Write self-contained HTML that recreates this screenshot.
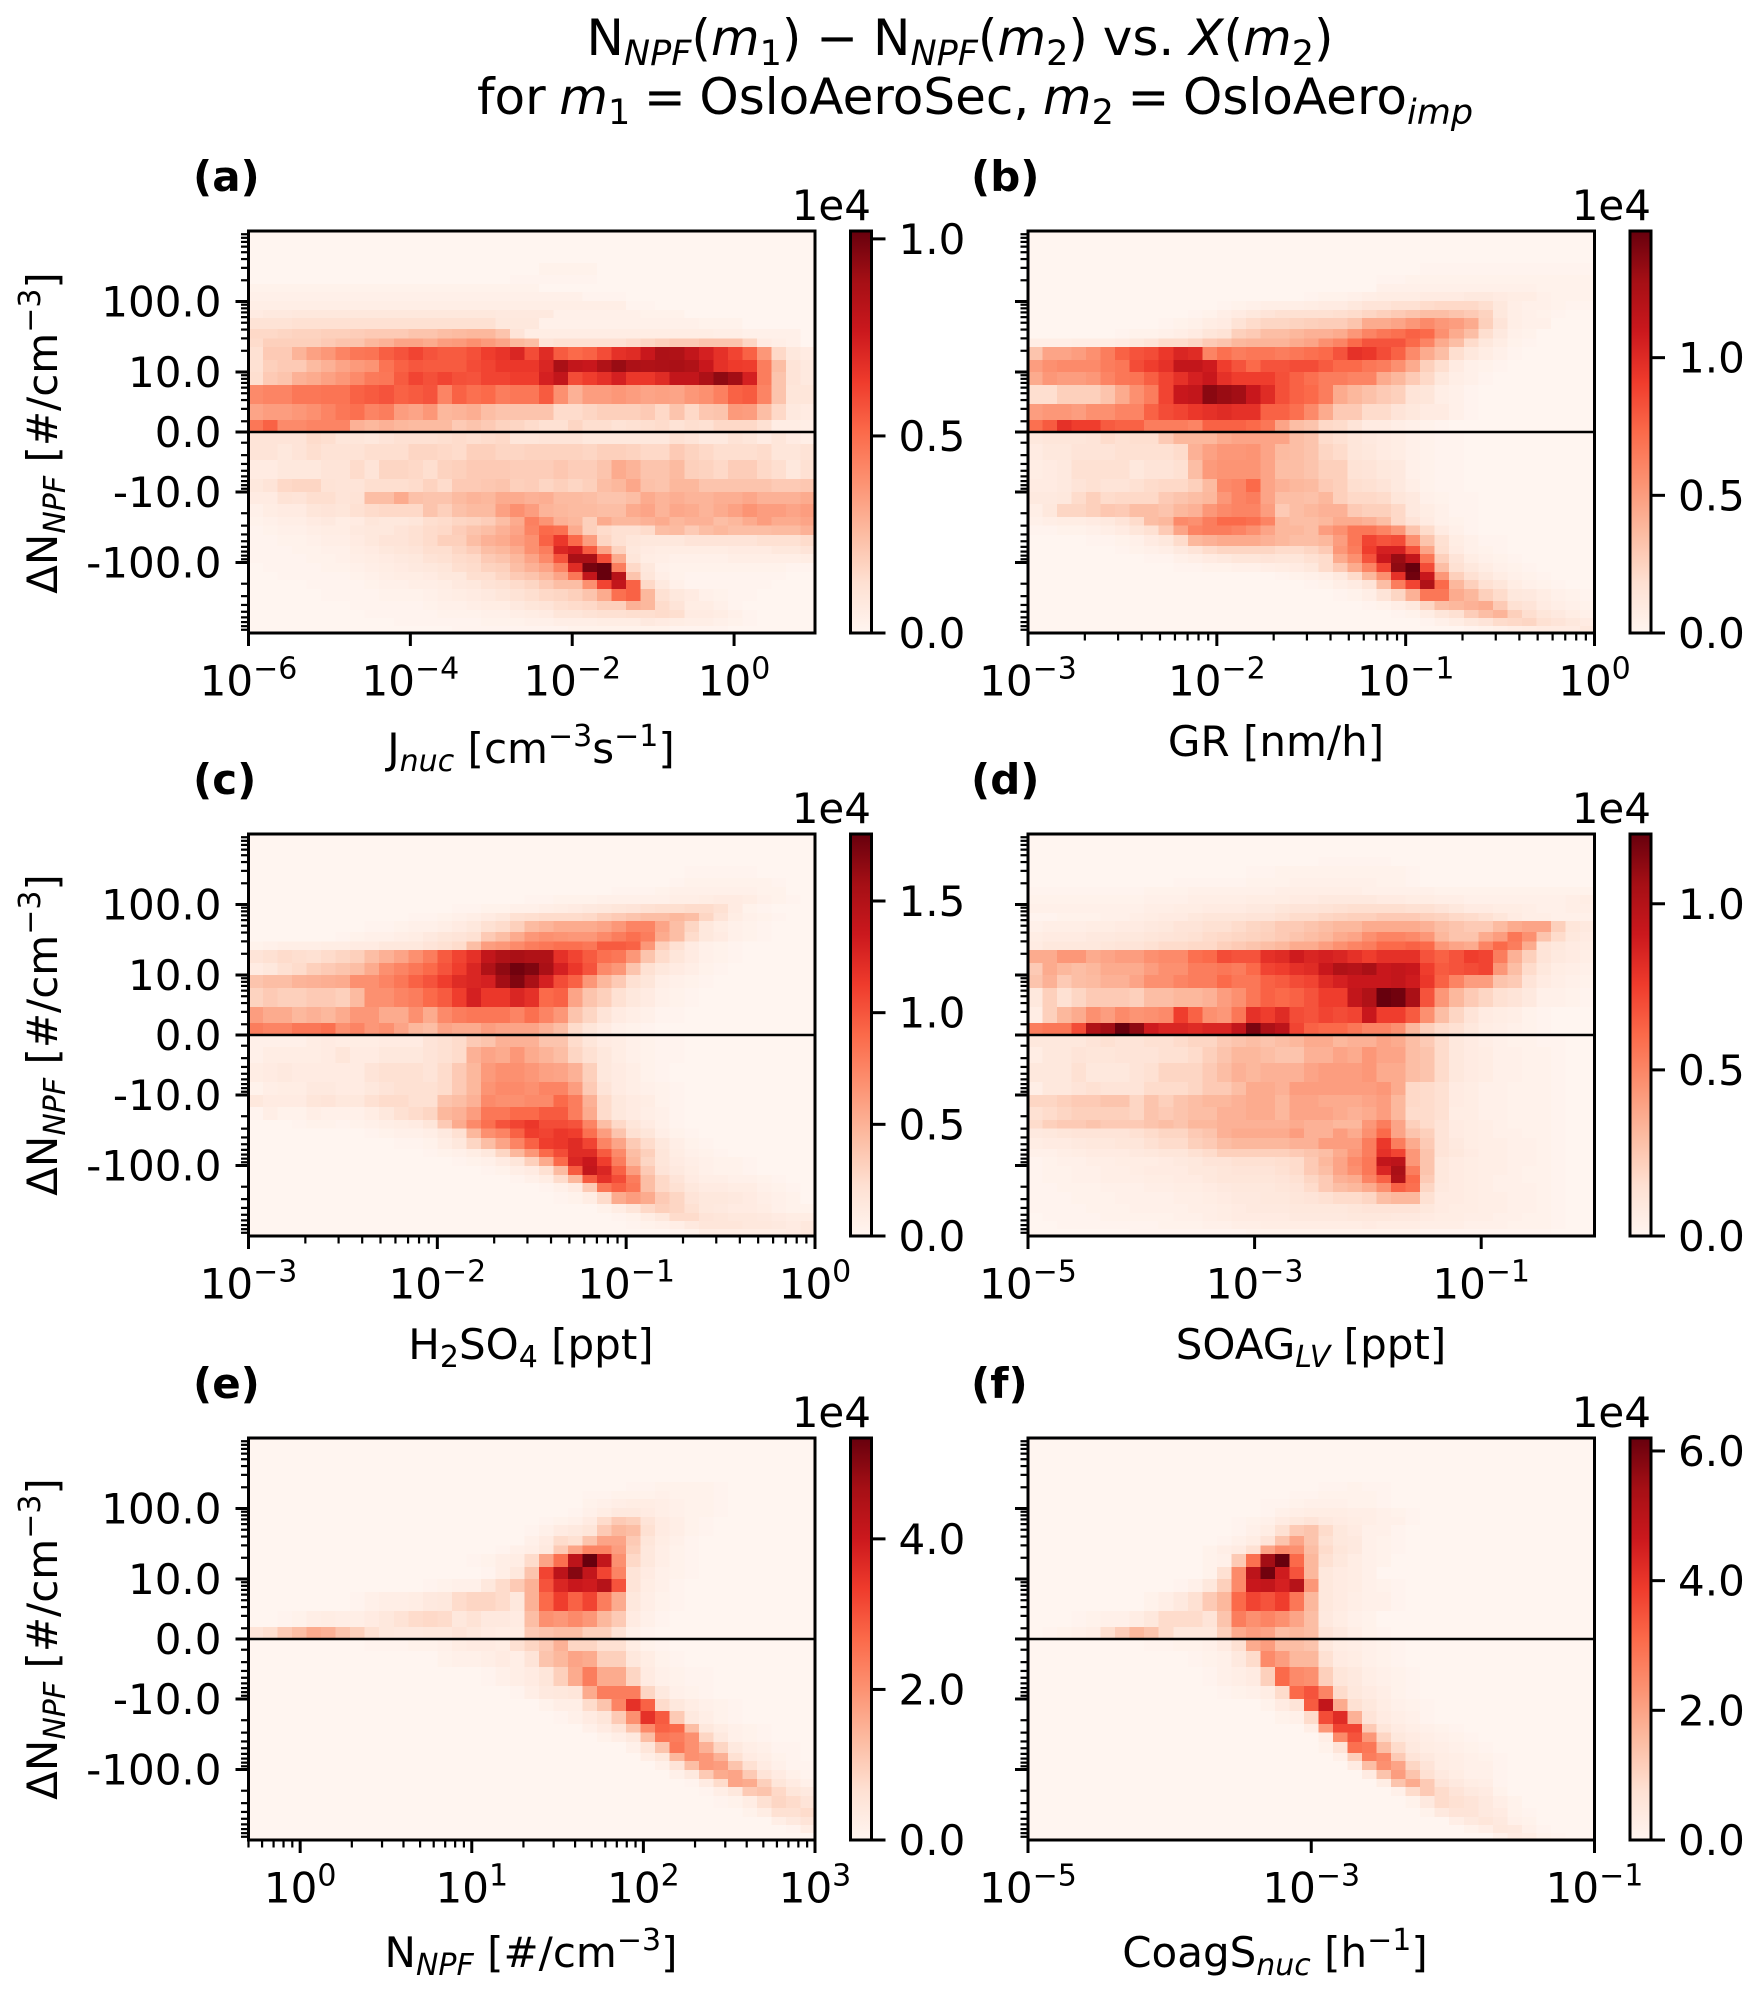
<!DOCTYPE html>
<html>
<head>
<meta charset="utf-8">
<title>NPF difference heatmaps</title>
<style>
html,body{margin:0;padding:0;background:#fff;}
svg{display:block;}
text{font-family:"DejaVu Sans","Liberation Sans",sans-serif;fill:#000;white-space:pre;}
.i{font-style:italic;}
.t{font-size:42px;}
.h{font-size:50px;}
.b{font-size:42px;font-weight:bold;}
</style>
</head>
<body>
<svg id="figure" xmlns="http://www.w3.org/2000/svg" width="1761" height="1995" viewBox="0 0 1761 1995">
<defs>
<linearGradient id="reds" x1="0" y1="1" x2="0" y2="0">
<stop offset="0" stop-color="#fff5f0"/><stop offset="0.125" stop-color="#fee0d2"/><stop offset="0.25" stop-color="#fcbba1"/><stop offset="0.375" stop-color="#fc9272"/><stop offset="0.5" stop-color="#fb6a4a"/><stop offset="0.625" stop-color="#ef3b2c"/><stop offset="0.75" stop-color="#cb181d"/><stop offset="0.875" stop-color="#a50f15"/><stop offset="1" stop-color="#67000d"/>
</linearGradient>
</defs>
<rect width="1761" height="1995" fill="#fff"/>

<text class="h" x="960" y="55" text-anchor="middle" word-spacing="-1">N<tspan class="i" font-size="35" dy="10">NPF</tspan><tspan dy="-10">(</tspan><tspan class="i">m</tspan><tspan font-size="35" dy="10">1</tspan><tspan dy="-10">) − N</tspan><tspan class="i" font-size="35" dy="10">NPF</tspan><tspan dy="-10">(</tspan><tspan class="i">m</tspan><tspan font-size="35" dy="10">2</tspan><tspan dy="-10">) vs. </tspan><tspan class="i">X</tspan><tspan>(</tspan><tspan class="i">m</tspan><tspan font-size="35" dy="10">2</tspan><tspan dy="-10">)</tspan></text>
<text class="h" x="975" y="114" text-anchor="middle" word-spacing="-2.3">for <tspan class="i">m</tspan><tspan font-size="35" dy="10">1</tspan><tspan dy="-10"> = OsloAeroSec, </tspan><tspan class="i">m</tspan><tspan font-size="35" dy="10">2</tspan><tspan dy="-10"> = OsloAero</tspan><tspan class="i" font-size="35" dy="10">imp</tspan></text>

<text class="b" x="193" y="191">(a)</text>
<text class="b" x="971" y="191">(b)</text>
<text class="b" x="193" y="794">(c)</text>
<text class="b" x="971" y="794">(d)</text>
<text class="b" x="193" y="1398">(e)</text>
<text class="b" x="971" y="1398">(f)</text>

<text class="t" transform="translate(57,433) rotate(-90)" text-anchor="middle">ΔN<tspan class="i" font-size="30" dy="8">NPF</tspan><tspan dy="-8"> [#/cm</tspan><tspan font-size="30" dy="-17">−3</tspan><tspan dy="17">]</tspan></text>
<text class="t" transform="translate(57,1035) rotate(-90)" text-anchor="middle">ΔN<tspan class="i" font-size="30" dy="8">NPF</tspan><tspan dy="-8"> [#/cm</tspan><tspan font-size="30" dy="-17">−3</tspan><tspan dy="17">]</tspan></text>
<text class="t" transform="translate(57,1639) rotate(-90)" text-anchor="middle">ΔN<tspan class="i" font-size="30" dy="8">NPF</tspan><tspan dy="-8"> [#/cm</tspan><tspan font-size="30" dy="-17">−3</tspan><tspan dy="17">]</tspan></text>

<text class="t" x="531" y="763" text-anchor="middle">J<tspan class="i" font-size="30" dy="8">nuc</tspan><tspan dy="-8"> [cm</tspan><tspan font-size="30" dy="-17">−3</tspan><tspan dy="17">s</tspan><tspan font-size="30" dy="-17">−1</tspan><tspan dy="17">]</tspan></text>
<text class="t" x="1276" y="756" text-anchor="middle">GR [nm/h]</text>
<text class="t" x="531" y="1359" text-anchor="middle">H<tspan font-size="30" dy="8">2</tspan><tspan dy="-8">SO</tspan><tspan font-size="30" dy="8">4</tspan><tspan dy="-8"> [ppt]</tspan></text>
<text class="t" x="1311" y="1359" text-anchor="middle">SOAG<tspan class="i" font-size="30" dy="8">LV</tspan><tspan dy="-8"> [ppt]</tspan></text>
<text class="t" x="531" y="1967" text-anchor="middle">N<tspan class="i" font-size="30" dy="8">NPF</tspan><tspan dy="-8"> [#/cm</tspan><tspan font-size="30" dy="-17">−3</tspan><tspan dy="17">]</tspan></text>
<text class="t" x="1275" y="1967" text-anchor="middle">CoagS<tspan class="i" font-size="30" dy="8">nuc</tspan><tspan dy="-8"> [h</tspan><tspan font-size="30" dy="-17">−1</tspan><tspan dy="17">]</tspan></text>

<text class="t" x="871" y="220" text-anchor="end">1e4</text>
<text class="t" x="1651" y="220" text-anchor="end">1e4</text>
<text class="t" x="871" y="823" text-anchor="end">1e4</text>
<text class="t" x="1651" y="823" text-anchor="end">1e4</text>
<text class="t" x="871" y="1427" text-anchor="end">1e4</text>
<text class="t" x="1651" y="1427" text-anchor="end">1e4</text>
</svg>
<script>
// Shared y bins (delta N, top to bottom) and y axis ticks
const yBinEdges = [1000,795,613,472,352,238,177,136,102,76,58,41,30,22.6,14.8,10,6.5,3.5,2.1,0,-2.1,-3.5,-6.5,-10,-14.8,-22.6,-30,-41,-58,-76,-102,-136,-177,-238,-352,-472,-613,-795,-1000];
const yTickValues = [100,10,0,-10,-100];
const yTickLabels = ["100.0","10.0","0.0","-10.0","-100.0"];
const yMinorDecades = [1,10,100];
const yMinorSteps = [2,3,4,5,6,7,8,9];
const columnCount = 39;
const redsStops = ["#fff5f0","#fee0d2","#fcbba1","#fc9272","#fb6a4a","#ef3b2c","#cb181d","#a50f15","#67000d"];

// Per-panel x limits (log10), x tick exponents, colour peak (1e4), colourbar ticks
const panelAXLim = [-6,1];
const panelAXTicks = [-6,-4,-2,0];
const panelAPeak = 1.02;
const panelACbarTicks = [0,0.5,1.0];
const panelBXLim = [-3,0];
const panelBXTicks = [-3,-2,-1,0];
const panelBPeak = 1.46;
const panelBCbarTicks = [0,0.5,1.0];
const panelCXLim = [-3,0];
const panelCXTicks = [-3,-2,-1,0];
const panelCPeak = 1.8;
const panelCCbarTicks = [0,0.5,1.0,1.5];
const panelDXLim = [-5,0];
const panelDXTicks = [-5,-3,-1];
const panelDPeak = 1.21;
const panelDCbarTicks = [0,0.5,1.0];
const panelEXLim = [-0.30103,3];
const panelEXTicks = [0,1,2,3];
const panelEPeak = 5.34;
const panelECbarTicks = [0,2,4];
const panelFXLim = [-5,-1];
const panelFXTicks = [-5,-3,-1];
const panelFPeak = 6.2;
const panelFCbarTicks = [0,2,4,6];

// Heatmap rows, top to bottom. First entry = first non-empty column, then percent of the panel peak.
const panelARows = [
[0],[0],[0],[0],
[20,2,2,2,2],
[18,1,1,1,1,1,1],
[0,2,2,2,2,2,2,2,2,2,2,2,2,2,2,2,2,2,2,2,2],
[0,3,3,3,3,3,3,3,3,3,3,3,3,3,3,3,3,3,3,3,3,3,3,3,1,1,1],
[0,4,4,4,4,4,4,4,4,4,4,4,4,4,4,4,4,4,4,4,4,4,4,4,4,4,4,1,1],
[0,6,7,7,8,8,8,8,8,8,8,8,8,8,8,8,8,8,7,7,7,7,3,3,3,3,3,3,2,2,2],
[0,11,11,11,12,12,12,12,12,12,12,12,12,12,12,12,12,12,8,8,8,3,3,3,3,3,3,3,3,3,3,3,2,2,2],
[0,15,15,16,17,17,18,18,19,20,20,20,22,22,24,25,26,26,22,10,5,5,5,5,5,5,5,5,5,5,5,5,5,4,4,3,3,3,3],
[0,14,18,18,18,18,20,22,22,26,28,32,32,30,34,35,38,35,32,26,24,10,12,12,12,12,12,14,16,18,20,20,22,22,22,16,6,4,3],
[0,12,20,20,27,33,36,42,46,47,53,56,60,56,54,54,57,62,65,70,58,68,54,50,52,58,66,68,76,85,84,78,72,66,60,52,36,15,8,6],
[0,12,18,20,20,25,28,32,35,37,47,52,55,54,54,54,58,60,64,64,64,70,86,78,76,84,90,85,84,85,86,84,76,66,63,62,44,24,10,7],
[0,13,20,22,28,30,33,36,40,45,46,54,60,57,60,57,56,60,60,62,62,72,78,58,62,66,72,64,64,68,78,78,85,92,88,72,44,22,10,7],
[0,40,42,42,46,46,47,47,52,54,56,52,54,56,42,52,48,50,44,46,46,54,38,28,34,34,36,34,32,33,32,36,38,43,52,54,42,22,9,9],
[0,32,34,34,36,38,42,46,48,42,44,34,32,36,26,27,29,24,22,22,22,22,14,14,16,18,18,18,20,15,22,15,21,22,35,34,24,15,7,6],
[0,46,52,40,40,42,42,42,28,26,28,26,25,25,25,20,22,20,17,16,14,12,12,16,13,13,11,12,13,14,11,13,12,15,15,15,12,5,5,4],
[0,10,10,10,10,14,13,9,9,8,10,12,12,12,13,14,13,14,15,9,9,10,10,10,8,8,8,8,8,8,12,10,7,7,11,9,6,9,6,4],
[0,10,10,8,10,13,11,11,11,13,13,13,16,16,15,14,18,18,16,16,17,17,17,17,16,18,18,17,15,15,20,17,15,13,13,13,14,9,9,11],
[0,6,6,8,8,8,10,10,14,10,16,16,15,13,17,18,20,20,20,19,19,19,21,19,19,22,30,27,22,22,25,18,17,15,19,19,15,13,8,12],
[0,8,10,15,16,16,11,10,10,13,13,13,14,17,14,20,20,21,22,18,19,16,18,16,18,24,26,31,23,22,26,26,22,22,22,22,22,20,20,21],
[0,6,6,11,10,13,13,10,11,24,24,30,23,22,22,25,27,26,30,30,28,29,25,25,24,22,22,24,30,27,29,27,27,29,29,31,28,28,28,30],
[0,3,5,6,6,9,10,9,12,14,15,15,15,22,18,23,25,25,33,38,34,27,26,25,25,24,24,30,32,27,31,30,27,30,33,37,34,34,32,34],
[0,2,3,4,4,6,7,5,6,9,8,8,9,13,14,16,17,19,24,30,43,37,28,26,18,30,26,26,28,30,26,28,28,24,26,30,34,30,30,32],
[0,1,2,3,3,4,5,5,7,8,8,10,12,14,15,19,22,24,28,32,42,50,48,30,18,14,12,12,14,24,25,20,24,26,24,24,24,25,25,28],
[0,1,1,2,2,3,4,4,6,8,10,10,12,14,18,18,24,28,30,34,38,52,64,50,34,16,12,9,8,8,8,10,10,10,10,10,12,12,12,14],
[0,1,1,1,2,2,3,3,5,6,8,9,10,13,13,16,19,24,26,30,38,44,70,74,54,32,17,8,6,5,5,5,5,5,6,6,6,8,8,10],
[0,1,1,1,1,2,2,3,4,5,6,7,8,11,12,14,15,20,22,26,32,40,56,86,86,58,30,9,5,4,3,3,3,3,4,4,4,4,4,5],
[1,1,1,1,1,2,2,3,4,5,6,7,8,9,13,14,17,18,24,28,32,42,68,97,100,44,15,8,3,2,2,2,2,2,2,2,2,1,1],
[2,1,1,1,1,1,2,3,4,5,5,6,8,8,13,13,16,20,22,26,32,46,78,100,82,22,9,4,2,1,1,1,1,1,1,1],
[4,1,1,1,1,2,3,3,4,4,5,7,8,11,12,14,16,20,24,24,38,60,78,52,15,7,3,1,1,1,1,1,1],
[5,1,1,1,1,2,2,2,3,4,5,6,7,9,11,13,15,16,18,22,30,48,52,26,12,8,6,3,2,1,1],
[7,1,1,1,1,1,2,3,3,4,5,5,7,9,10,13,14,15,18,18,28,26,14,10,5,5,3,1],
[8,1,1,1,1,1,2,2,2,3,3,4,5,6,9,9,11,12,12,13,13,14,13,6,6,5,3,1],
[10,1,1,1,1,1,1,2,2,2,3,3,4,4,4,5,5,5,7,6,5,4,4,3,2,1],
[14,1,1,1,1,1,1,1,1,2,2,2,2,2,2,2,1,1,1,1]
];

const panelBRows = [
[0],[0],[0],[0],
[27,1,1,1,1,1,1,1,1,1,1,1,1],
[24,1,1,2,2,2,2,2,2,2,2,2,2,2,2,2],
[24,3,3,3,3,3,3,3,3,3,3,3,2,2,2,2],
[19,1,2,2,3,4,5,5,5,6,6,6,7,7,6,5,5,3,2,2,2],
[13,1,2,3,4,4,4,5,6,6,8,10,10,12,12,14,15,15,15,13,8,4,3,3,2,1,1],
[11,1,2,4,6,8,10,12,12,12,12,13,14,16,18,20,22,24,24,22,20,17,8,4,3,2,1],
[9,1,2,3,5,6,11,14,16,16,17,18,19,19,22,30,30,32,36,40,36,34,30,18,10,4,3,3],
[6,1,2,2,3,4,6,9,11,18,20,24,24,26,28,28,30,36,42,46,48,52,50,38,30,24,13,7,3,2],
[0,4,4,4,5,5,5,6,8,10,14,14,16,20,22,26,27,27,27,30,32,38,42,50,56,56,56,50,42,30,24,14,8,5,2,1],
[0,22,32,32,34,38,44,52,56,58,64,70,68,42,48,44,46,46,44,46,48,50,56,66,64,58,52,40,30,24,13,8,5,3,1],
[0,34,38,40,40,40,44,46,58,62,66,78,78,74,62,56,50,56,56,58,58,54,50,50,46,44,38,30,18,13,6,3,2,1],
[0,30,36,34,34,36,42,46,47,53,60,66,72,76,66,62,62,62,57,52,48,44,44,42,42,30,26,20,15,8,4,3,1],
[0,13,13,18,18,18,22,30,38,44,60,76,78,93,90,88,76,68,57,52,50,44,30,26,23,20,18,10,9,4,3,1],
[0,34,36,36,34,38,38,42,42,52,58,60,64,66,68,66,66,52,52,48,40,30,20,20,14,14,10,8,6,6,3,1],
[0,48,54,66,62,62,54,52,52,44,44,44,42,52,52,52,50,46,32,24,22,15,14,10,6,6,4,3,2,1],
[0,8,9,9,9,10,14,12,13,13,20,26,26,26,30,32,32,32,32,24,22,14,12,9,7,6,5,3,2,1,1],
[0,6,8,8,10,10,10,12,12,12,12,14,28,33,36,36,37,32,25,24,22,16,14,9,8,6,5,3,2,1,1],
[0,5,6,7,12,12,12,12,8,10,10,12,24,35,37,37,37,32,24,24,22,18,18,11,10,8,7,3,2,1,1],
[0,6,6,7,10,12,10,10,12,14,15,15,18,25,40,42,50,32,28,26,25,20,18,13,12,10,7,4,2,1,1],
[0,7,7,8,14,18,14,15,15,15,20,22,24,26,36,42,44,32,24,24,23,26,18,15,15,14,9,7,3,2,1,1],
[0,4,8,16,16,18,21,20,24,24,22,26,28,36,40,42,42,34,20,24,26,28,28,20,18,18,15,7,5,3,1,1],
[0,3,4,5,5,6,7,10,14,24,26,40,38,44,50,50,48,42,26,24,24,26,30,30,28,24,15,10,6,3,2,1],
[0,1,1,2,2,3,4,6,9,12,20,32,42,44,44,42,38,32,26,26,24,34,38,46,46,42,36,22,14,6,3,1],
[4,1,1,2,3,6,8,14,26,28,30,30,30,28,26,24,24,26,34,46,60,56,58,38,22,12,5,3,1,1],
[6,1,2,3,4,7,10,14,16,16,16,16,14,14,16,20,36,44,62,72,72,56,32,13,6,3,2,1],
[8,1,1,3,4,6,7,9,9,10,9,9,12,14,30,38,56,76,90,78,46,18,10,5,3,2,1],
[10,1,1,2,2,3,3,4,5,6,8,14,20,30,42,60,92,100,58,24,12,8,5,3,2,1],
[17,1,2,3,4,7,14,26,38,66,98,76,36,18,12,8,5,3,2,1],
[19,1,2,4,6,10,24,44,60,84,50,26,18,12,9,5,3,2,1],
[21,1,2,4,10,16,28,46,46,30,26,18,14,8,7,5,3,2,1],
[23,1,2,4,7,16,24,26,28,30,20,12,10,6,4,3,2],
[25,1,2,5,9,12,19,24,27,18,13,9,7,5,3],
[27,1,3,5,8,10,14,15,16,12,10,8,6],
[30,1,2,3,4,5,6,6,6,8]
];

const panelCRows = [
[0],[0],[0],[0],
[30,1,1,1,1,1],
[29,1,2,2,2,2,2,2,1],
[25,1,1,1,2,3,3,3,3,3,3,2,2],
[19,1,1,2,2,2,3,3,3,3,3,4,4,5,6,6,5,3,2,1],
[14,1,1,2,2,3,3,4,5,6,7,8,9,10,12,13,13,14,14,12,6,2,1],
[11,1,1,2,3,4,6,8,12,13,14,14,14,15,18,20,22,24,24,26,24,16,10,5,3,2,1],
[8,1,1,2,3,3,4,6,8,12,14,18,25,27,30,30,30,32,36,42,42,32,24,16,8,5,3,2,1],
[6,1,2,3,3,4,5,7,9,10,12,20,24,30,36,38,37,36,36,40,44,48,44,30,24,14,8,6,3,2,1],
[0,2,3,4,4,4,5,5,6,6,8,8,8,10,12,14,24,34,36,40,44,46,48,48,46,54,54,52,36,18,12,6,3,2,1],
[0,10,12,14,13,12,14,16,18,24,28,32,38,44,54,60,66,78,84,86,84,84,66,60,54,48,46,36,22,14,9,6,3,2,1],
[0,6,8,12,14,18,20,22,24,30,38,42,46,50,56,62,70,84,92,98,95,86,72,64,56,40,36,22,12,8,6,4,2,1],
[0,22,24,24,27,28,29,30,38,38,42,46,52,56,62,68,70,72,88,95,86,72,58,52,36,26,20,12,9,4,3,2,1],
[0,17,20,18,18,20,20,18,25,38,38,42,44,50,54,62,72,64,64,70,66,50,52,32,22,18,12,8,6,3,2,1],
[0,34,30,30,26,28,26,30,36,36,30,30,38,30,40,44,46,46,46,42,48,42,36,22,16,10,6,4,3,1,1],
[0,44,42,42,46,46,48,38,42,36,38,32,26,24,32,30,30,34,32,32,32,28,24,14,9,6,3,2,1],
[0,3,3,3,3,5,6,5,5,5,6,6,6,10,12,14,20,22,28,28,28,22,22,14,9,6,5,3,2,1,1],
[0,3,5,5,5,5,6,9,6,6,8,8,8,10,12,14,28,32,30,36,30,27,24,16,12,8,5,3,2,1,1],
[0,5,6,7,6,6,6,6,6,10,12,12,12,10,14,20,26,35,38,38,36,33,32,28,18,8,6,4,2,1],
[0,2,4,5,5,7,7,6,6,8,10,12,12,12,14,20,26,37,40,40,38,42,42,34,20,10,6,4,3,2,1],
[0,8,6,6,6,9,10,8,8,12,14,14,12,12,22,24,28,40,38,38,40,40,50,44,28,14,8,6,5,2,1],
[0,1,4,2,2,4,3,3,3,5,8,12,14,16,26,28,34,46,46,50,50,54,54,44,30,14,8,6,4,3,1],
[3,1,2,2,1,2,3,4,5,6,9,20,30,40,48,56,60,64,58,58,56,42,24,15,9,6,3,1],
[8,1,2,3,3,4,7,12,26,38,42,52,62,60,64,62,48,34,22,12,9,4,2,1],
[10,1,1,2,5,8,16,24,32,42,52,62,64,68,60,42,32,20,14,8,4,2,1],
[12,1,2,3,5,8,16,26,36,50,58,68,68,54,40,24,18,9,5,3,2,1],
[14,1,2,3,6,9,18,30,50,70,76,62,44,26,16,9,6,4,3,2,2,1],
[16,1,2,4,6,12,25,54,78,70,52,34,20,10,7,5,3,2,2,1],
[18,1,3,5,14,26,54,66,58,44,24,15,10,6,4,4,3,3,2,1],
[20,1,3,6,20,46,52,46,24,15,12,8,6,6,5,5,3,2,1],
[21,1,2,5,14,30,34,30,20,16,10,8,8,7,6,4,3,2],
[24,2,5,9,15,18,16,12,8,7,6,6,5,3,2,2],
[25,1,2,5,8,14,14,10,9,8,8,7,6,5,5],
[26,1,2,3,4,7,9,9,9,8,8,7,6,8],
[29,1,2,5,5,5,5,5,5,6,8]
];

const panelDRows = [
[0],[0],[0],
[20,1,1,1,1,1],
[15,1,1,2,2,2,2,2,2,2,2,2,1],
[10,1,1,1,1,1,2,2,2,3,3,3,3,3,3,2,2,1],
[0,1,1,1,1,1,1,1,1,2,2,2,3,3,3,3,3,3,4,4,4,4,4,4,3,3,3,3,3,2,2,2,2,2,2,2,2,2,2,2],
[0,2,2,2,2,2,2,2,2,3,3,3,4,4,4,4,5,5,5,6,6,7,7,7,7,6,6,5,5,4,4,3,3,3,3,3,3,3,4,5],
[0,3,3,3,3,3,3,3,3,4,4,5,5,6,6,6,7,7,9,10,10,11,12,13,13,13,13,12,12,10,8,6,6,5,5,4,3,3,4,4],
[0,1,1,2,2,2,3,3,4,5,6,6,8,9,9,9,10,10,12,14,14,16,17,18,18,20,20,20,18,17,15,14,12,9,6,4,4,3,3,3],
[0,3,4,4,4,5,5,6,6,7,8,10,10,12,12,14,16,17,20,20,22,24,26,26,30,30,30,30,28,24,22,20,20,25,30,32,32,18,9,7],
[0,5,6,6,6,7,7,8,8,9,10,11,12,14,15,16,17,18,20,22,24,26,30,32,38,42,42,40,36,26,22,22,30,34,46,38,22,14,8,6],
[0,6,8,8,8,8,9,10,10,12,14,14,15,15,18,20,22,24,26,30,30,34,38,42,44,50,50,52,50,36,32,30,42,50,44,30,10,8,6,5],
[0,30,30,36,36,30,32,34,34,38,40,40,48,50,58,56,56,66,68,74,70,72,70,66,62,66,66,66,56,52,56,62,60,44,28,18,10,7,6,4],
[0,20,30,26,24,26,30,30,30,34,38,38,44,44,46,44,50,60,62,66,68,76,84,82,86,76,78,76,62,54,56,58,60,36,24,14,8,5,4,3],
[0,22,28,20,24,25,28,28,32,38,38,42,44,44,50,46,46,52,54,58,60,68,72,76,76,76,78,74,64,52,42,34,34,22,20,10,6,4,3,2],
[0,8,18,12,16,20,20,20,18,24,24,26,26,28,34,38,46,52,50,52,56,62,62,78,84,100,98,86,56,36,26,20,16,12,10,7,3,3,2,1],
[0,5,18,26,30,38,34,40,37,38,40,62,52,38,36,46,66,62,68,58,56,60,58,60,76,62,62,54,38,24,16,10,6,5,4,2,1],
[0,44,46,46,58,84,88,100,92,74,70,70,68,70,70,78,96,85,80,60,52,50,50,46,42,42,38,26,18,14,12,8,5,4,3,2,1],
[0,8,8,8,8,10,12,10,10,12,12,14,16,16,20,22,24,22,24,26,30,30,26,28,28,32,30,24,20,14,8,6,4,3,2,2,1,1],
[0,5,8,8,10,9,9,10,10,10,12,12,14,18,22,26,26,24,22,22,28,28,32,30,36,32,32,24,22,14,8,6,5,3,3,2,2,1],
[0,8,8,8,12,8,8,8,10,12,16,16,16,20,24,28,26,28,28,28,32,34,34,34,36,30,30,24,22,14,8,6,5,3,3,2,2,1],
[0,4,8,8,10,12,10,10,10,14,14,14,16,20,20,24,30,30,28,34,34,34,34,34,34,36,30,15,14,12,6,5,3,3,2,2,2,1],
[0,16,16,18,20,20,22,22,16,22,18,22,24,26,26,28,30,30,26,32,32,30,30,30,32,34,26,15,14,12,6,5,3,3,2,2,2,1],
[0,12,14,16,18,18,18,18,16,22,20,22,24,24,28,28,30,30,26,32,32,32,30,28,30,34,26,14,14,12,5,5,3,3,2,2,2,1],
[0,14,18,20,20,22,20,20,20,22,24,22,26,26,28,28,28,28,28,30,28,28,26,26,36,44,32,18,14,10,6,5,4,3,2,2,2,1],
[0,7,8,9,10,10,10,10,12,14,16,16,20,22,28,30,30,30,30,34,28,28,34,30,38,50,32,22,18,10,6,5,4,3,3,2,2,1],
[0,5,6,6,7,8,8,9,9,12,14,14,18,20,24,26,26,26,26,28,28,34,34,34,44,64,44,30,20,10,7,5,4,4,3,3,2,1],
[0,3,3,4,5,6,6,6,7,8,9,9,12,14,18,18,18,18,18,20,22,24,30,36,44,66,60,36,22,10,8,6,4,4,3,3,2,1],
[0,1,2,3,3,4,4,5,5,5,6,7,8,10,10,12,12,12,13,14,20,26,32,40,46,78,80,36,22,8,6,5,4,4,3,3,2,1],
[0,1,2,2,3,3,4,4,5,6,6,6,8,8,9,10,10,10,12,14,20,24,32,38,46,70,86,44,22,8,6,5,4,4,3,2,2,1],
[0,1,2,2,3,3,4,4,4,5,5,6,6,8,9,9,9,9,10,12,16,20,28,30,42,52,84,50,20,8,6,5,4,3,3,2,2,1],
[0,1,1,2,2,2,3,3,3,4,4,5,5,6,7,8,8,8,9,10,14,20,24,26,30,38,52,48,16,7,6,5,4,3,3,3,2,1],
[0,1,1,1,2,2,2,3,3,3,3,4,4,5,6,7,7,8,8,9,10,12,14,14,16,24,26,26,12,6,6,5,4,4,3,3,2,1],
[0,1,1,1,1,2,2,2,3,3,3,3,4,4,5,6,7,7,7,8,8,8,8,9,10,10,10,10,8,6,5,5,4,4,3,3,2,1],
[1,1,1,1,1,2,2,2,2,2,3,3,4,5,6,6,6,6,7,7,7,7,8,8,8,7,7,6,5,5,4,4,3,3,2,2,1],
[2,1,1,1,1,1,1,1,2,2,2,3,3,4,4,5,5,5,5,5,5,5,6,5,5,5,4,4,4,3,3,3,2,2,2,1],
[7,1,1,1,1,1,1,1,1,2,2,2,2,2,2,2,2,2,2,2,2,1,1,1,1,1,1,1,1,1]
];

const panelERows = [
[0],[0],[0],[0],[0],
[26,1,1,2,2,2,2,1],
[23,1,1,2,2,2,3,2,2,2,1],
[23,2,3,4,5,5,4,3,2,2,1],
[22,1,3,5,7,7,6,4,3,2,2,1],
[20,1,2,3,6,14,20,18,10,6,4,2,1],
[19,1,3,6,7,9,20,26,24,12,6,4,2,1],
[19,3,6,14,12,22,32,32,20,9,5,3,1],
[17,1,3,4,7,20,32,42,42,34,18,8,4,2,1],
[15,1,2,4,5,14,32,48,80,100,78,38,15,8,4,2,1],
[16,1,4,8,22,60,80,94,78,60,42,10,6,3,2,1],
[12,1,2,3,3,8,14,20,28,56,70,76,74,82,56,10,5,3,1],
[7,1,3,4,4,5,7,8,14,16,16,14,8,28,50,62,52,60,44,30,8,4,2,1],
[2,1,2,4,5,4,4,6,8,11,14,15,14,8,11,7,7,6,24,38,36,40,36,26,20,6,3,1],
[0,10,13,20,24,30,28,22,18,12,8,7,7,8,8,10,8,6,5,5,20,22,24,24,18,18,11,3,1],
[8,1,1,1,2,2,3,5,6,6,5,12,16,20,28,16,16,12,12,5,2,1],
[13,2,3,3,4,6,4,10,22,26,32,30,18,18,8,5,2,1],
[16,1,3,4,6,9,18,30,44,30,30,16,6,3,2,1,1],
[18,1,4,7,8,9,30,44,44,44,16,7,3,2,1],
[20,2,4,4,14,22,42,66,52,14,8,5,3,2,1],
[21,1,3,6,9,20,38,66,54,20,7,4,2,1],
[23,3,6,10,22,40,52,50,24,8,5,3,2,1],
[24,2,4,7,24,46,44,38,16,7,3,2,1],
[26,3,9,22,46,38,28,16,7,4,3,1,1],
[27,4,8,26,38,36,28,12,6,4,2,1],
[28,3,10,24,36,34,22,12,6,3,1,1],
[29,3,7,20,30,32,20,10,6,3,1],
[30,1,6,14,32,30,18,9,6,3],
[31,1,4,8,20,22,15,9,7],
[32,1,2,5,12,16,14,10],
[34,2,5,12,12,14],
[36,4,7,10],
[37,1,5],
[0]
];

const panelFRows = [
[0],[0],[0],[0],[0],
[20,1,1,2,1,1],
[18,1,1,2,2,2,2,1],
[16,1,1,2,3,3,3,2,2,1],
[16,1,3,4,5,5,5,4,4,3,2,1],
[14,1,2,3,6,8,10,7,6,5,4,3,3,1],
[14,1,3,5,12,20,22,14,8,6,3,3,1],
[13,1,3,5,10,22,32,22,12,8,7,3,2,1],
[12,2,4,6,12,32,40,38,24,14,9,7,3,2,1],
[12,2,3,20,48,88,100,50,26,12,8,5,3,2],
[12,2,12,40,80,98,74,56,26,8,6,5,3],
[10,1,3,8,18,40,76,78,72,82,36,8,6,5,3,2,1],
[8,2,4,7,12,20,26,50,60,56,62,46,26,8,6,4,3,3,1],
[3,1,2,3,3,5,8,14,14,14,10,22,44,38,42,38,32,24,7,5,3,2],
[1,1,2,3,4,13,19,26,22,14,8,8,8,18,30,34,32,24,26,24,10,7,4,2,1],
[8,1,1,2,2,3,6,12,30,34,24,24,22,8,5,4,3,2,1],
[11,1,2,3,7,14,40,34,26,26,12,6,5,3,2,1],
[12,1,3,4,6,18,50,40,38,18,9,7,4,3,2,1],
[13,1,2,3,5,14,50,56,42,14,8,6,4,2,1],
[16,2,6,10,54,78,30,12,8,5,3,2,1],
[17,2,3,14,58,68,28,10,6,4,3,1],
[19,4,36,60,60,20,9,6,4,3,2,1],
[20,4,40,56,36,16,8,6,4,3,2,1],
[20,2,10,48,46,24,14,7,5,4,3,2,1],
[21,3,18,44,40,20,10,7,5,4,3,2,1],
[22,6,24,38,32,16,10,5,4,3,3,1],
[23,6,22,34,22,12,7,5,3,3,1],
[24,5,22,30,20,10,7,5,4,1],
[25,3,14,20,14,10,7,6,2],
[26,2,7,14,12,10,7,4,2],
[27,2,7,10,10,7,6,2,1],
[29,4,7,9,7,3,2],
[30,2,4,8,7,3,1],
[32,3,6,5,2,1]
];

const plotWidth = 566.5;
const plotHeight = 402;
const svgNS = 'http://www.w3.org/2000/svg';
const figure = document.getElementById('figure');

function symlogDistance(v) {
  const a = Math.abs(v);
  if (a < 2) return a / 2 * (60 + 70.5 * Math.log10(0.2));
  return 60 + 70.5 * Math.log10(a / 10);
}
function makeYScale(top) {
  const zero = top + plotHeight / 2;
  return function (v) { return zero - Math.sign(v) * symlogDistance(v); };
}
function makeXScale(left, lim) {
  return function (logV) { return left + (logV - lim[0]) / (lim[1] - lim[0]) * plotWidth; };
}
function redsColor(t) {
  const f = Math.max(0, Math.min(1, t)) * (redsStops.length - 1);
  const i = Math.min(redsStops.length - 2, Math.floor(f));
  const u = f - i;
  const a = redsStops[i], b = redsStops[i + 1];
  const ch = function (o) {
    const p = parseInt(a.substr(o, 2), 16), q = parseInt(b.substr(o, 2), 16);
    return Math.round(p + (q - p) * u);
  };
  return 'rgb(' + ch(1) + ',' + ch(3) + ',' + ch(5) + ')';
}
function setAttrs(el, attrs) {
  for (const k in attrs) el.setAttribute(k, attrs[k]);
  return el;
}
function exponentText(e) {
  return e < 0 ? '\u2212' + Math.abs(e) : String(e);
}

function drawPanel(id, left, top, rows, xLim, xTicks, minorX, peak, cbarTicks, showY) {
  const group = document.createElementNS(svgNS, 'g');
  
  
  figure.appendChild(group);

  const xScale = makeXScale(left, xLim);
  const yScale = makeYScale(top);
  const right = left + plotWidth;
  const bottom = top + plotHeight;

  // heatmap cells
  rows.forEach(function (row, r) {
    for (let c = 0; c < columnCount; c++) {
      const idx = c - row[0] + 1;
      const pct = (idx >= 1 && idx < row.length) ? row[idx] : 0;
      const logA = xLim[0] + (xLim[1] - xLim[0]) * c / columnCount;
      const logB = xLim[0] + (xLim[1] - xLim[0]) * (c + 1) / columnCount;
      const cell = document.createElementNS(svgNS, 'rect');
      
      
      setAttrs(cell, {
        x: xScale(logA), width: xScale(logB) - xScale(logA),
        y: yScale(yBinEdges[r]), height: yScale(yBinEdges[r + 1]) - yScale(yBinEdges[r]),
        fill: redsColor(pct / 100), 'shape-rendering': 'crispEdges'
      });
      group.appendChild(cell);
    }
  });

  // zero line
  const zeroLine = document.createElementNS(svgNS, 'line');
  
  
  setAttrs(zeroLine, { x1: left, x2: right, y1: yScale(0), y2: yScale(0), stroke: '#000', 'stroke-width': 2.4 });
  group.appendChild(zeroLine);

  // plot frame
  const frame = document.createElementNS(svgNS, 'rect');
  
  
  setAttrs(frame, { x: left, y: top, width: plotWidth, height: plotHeight, fill: 'none', stroke: '#000', 'stroke-width': 3 });
  group.appendChild(frame);

  // y minor ticks
  [1, -1].forEach(function (sign) {
    yMinorDecades.forEach(function (dec) {
      yMinorSteps.forEach(function (step) {
        const y = yScale(sign * dec * step);
        const tick = document.createElementNS(svgNS, 'line');
        
        
        setAttrs(tick, { x1: left - 7.5, x2: left, y1: y, y2: y, stroke: '#000', 'stroke-width': 2.2 });
        group.appendChild(tick);
      });
    });
  });

  // y major ticks
  yTickValues.forEach(function (v, i) {
    const y = yScale(v);
    const tick = document.createElementNS(svgNS, 'line');
    
    
    setAttrs(tick, { x1: left - 13, x2: left, y1: y, y2: y, stroke: '#000', 'stroke-width': 3 });
    group.appendChild(tick);
    if (showY) {
      const label = document.createElementNS(svgNS, 'text');
      
      
      setAttrs(label, { x: left - 27, y: y + 15, 'text-anchor': 'end', 'font-size': 42 });
      label.textContent = yTickLabels[i];
      group.appendChild(label);
    }
  });

  // x minor ticks
  if (minorX) {
    for (let e = Math.floor(xLim[0]); e < xLim[1]; e++) {
      yMinorSteps.forEach(function (step) {
        const lv = e + Math.log10(step);
        if (lv < xLim[0] || lv > xLim[1]) return;
        const x = xScale(lv);
        const tick = document.createElementNS(svgNS, 'line');
        
        
        setAttrs(tick, { x1: x, x2: x, y1: bottom, y2: bottom + 7.5, stroke: '#000', 'stroke-width': 2.2 });
        group.appendChild(tick);
      });
    }
  }

  // x major ticks and labels
  xTicks.forEach(function (e) {
    const x = xScale(e);
    const tick = document.createElementNS(svgNS, 'line');
    
    
    setAttrs(tick, { x1: x, x2: x, y1: bottom, y2: bottom + 13, stroke: '#000', 'stroke-width': 3 });
    group.appendChild(tick);

    const label = document.createElementNS(svgNS, 'text');
    
    
    setAttrs(label, { x: x, y: bottom + 62.5, 'text-anchor': 'middle', 'font-size': 42 });
    const base = document.createElementNS(svgNS, 'tspan');
    base.textContent = '10';
    label.appendChild(base);
    const sup = document.createElementNS(svgNS, 'tspan');
    setAttrs(sup, { dy: -17, 'font-size': 30 });
    sup.textContent = exponentText(e);
    label.appendChild(sup);
    group.appendChild(label);
  });

  // colourbar
  const barLeft = left + 602;
  const barWidth = 21;
  const bar = document.createElementNS(svgNS, 'rect');
  
  
  setAttrs(bar, { x: barLeft, y: top, width: barWidth, height: plotHeight, fill: 'url(#reds)', stroke: '#000', 'stroke-width': 3 });
  group.appendChild(bar);

  cbarTicks.forEach(function (v) {
    const y = bottom - v / peak * plotHeight;
    const tick = document.createElementNS(svgNS, 'line');
    
    
    setAttrs(tick, { x1: barLeft + barWidth, x2: barLeft + barWidth + 14, y1: y, y2: y, stroke: '#000', 'stroke-width': 3 });
    group.appendChild(tick);

    const label = document.createElementNS(svgNS, 'text');
    
    
    setAttrs(label, { x: barLeft + barWidth + 27, y: y + 15, 'font-size': 42 });
    label.textContent = v.toFixed(1);
    group.appendChild(label);
  });
}

drawPanel('a', 248.5, 231, panelARows, panelAXLim, panelAXTicks, false, panelAPeak, panelACbarTicks, true);
drawPanel('b', 1028, 231, panelBRows, panelBXLim, panelBXTicks, true, panelBPeak, panelBCbarTicks, false);
drawPanel('c', 248.5, 834, panelCRows, panelCXLim, panelCXTicks, true, panelCPeak, panelCCbarTicks, true);
drawPanel('d', 1028, 834, panelDRows, panelDXLim, panelDXTicks, false, panelDPeak, panelDCbarTicks, false);
drawPanel('e', 248.5, 1438, panelERows, panelEXLim, panelEXTicks, true, panelEPeak, panelECbarTicks, true);
drawPanel('f', 1028, 1438, panelFRows, panelFXLim, panelFXTicks, false, panelFPeak, panelFCbarTicks, false);
</script>
</body>
</html>
